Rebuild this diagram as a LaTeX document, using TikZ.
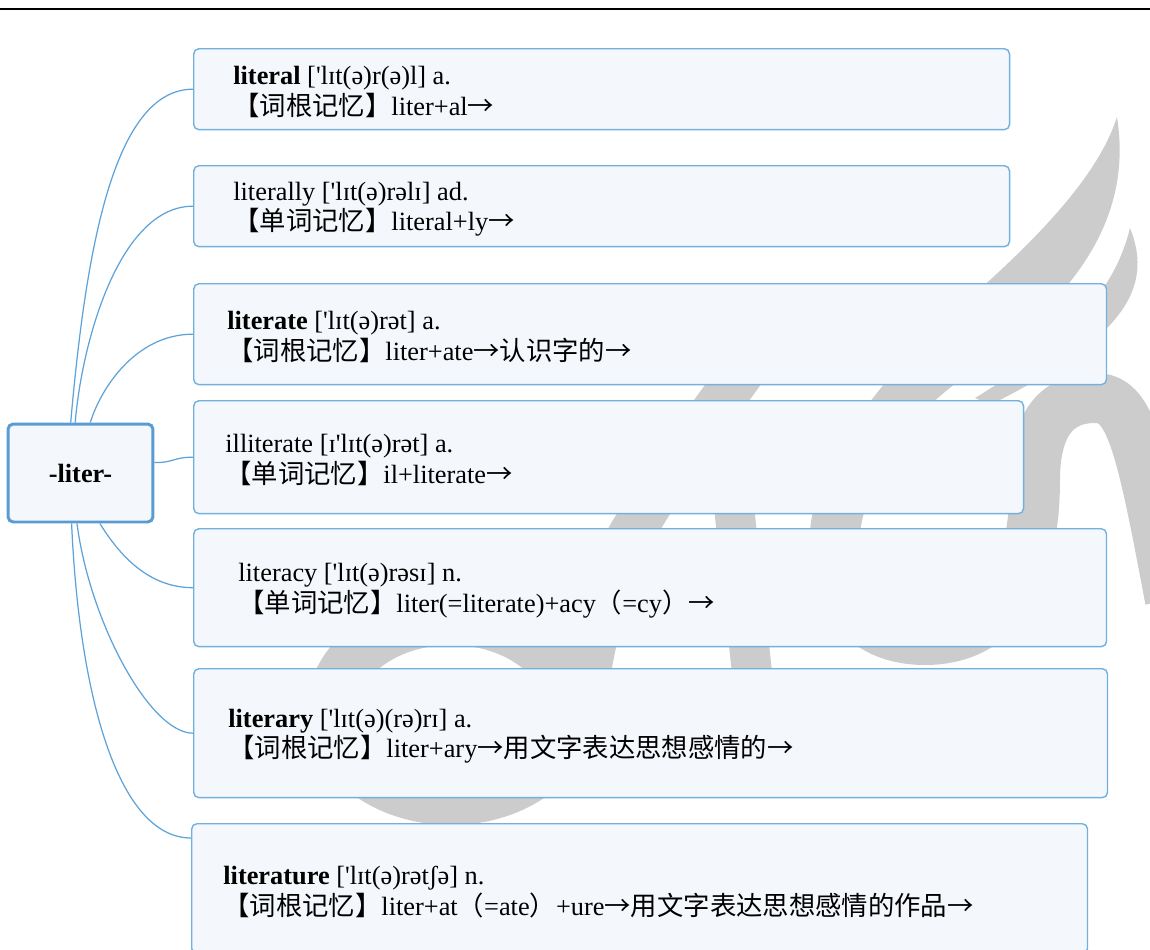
\documentclass[tikz,border=0pt]{standalone}
\usepackage{fontspec}
\setmainfont{Liberation Serif}
\newfontfamily\ipafont{Liberation Serif}
\newfontfamily\cjk{Noto Sans CJK SC}
\usetikzlibrary{positioning,calc}
\definecolor{boxline}{HTML}{72B0DE}
\definecolor{rootline}{HTML}{5A9BD3}
\definecolor{boxfill}{HTML}{F4F7FC}
\definecolor{linkline}{HTML}{5DA2D8}
\definecolor{wmgray}{HTML}{CCCCCC}
\newcommand{\sq}{{\ipafont\char"27}}
\newcommand{\ra}{{\cjk →}}

\begin{document}
\begin{tikzpicture}[x=0.02cm,y=-0.02cm,
	wordbox/.style={draw=boxline,fill=boxfill,rounded corners=3pt,line width=0.8pt,anchor=north west,inner sep=0pt},
	rootbox/.style={draw=rootline,fill=boxfill,rounded corners=3pt,line width=1.7pt,minimum width=2.9cm,minimum height=1.96cm,font=\fontsize{15}{18}\selectfont\bfseries},
	wordtext/.style={align=left,inner sep=0pt,yshift=-0.06cm,font=\fontsize{15}{17.6}\selectfont},
	link/.style={draw=linkline,line width=0.7pt}]
	\useasboundingbox (0,0) rectangle (1150,950);
	\draw[line width=1.7pt] (0,9) -- (1150,9);
	% watermark
	\fill[wmgray] (1117,117) .. controls (1135,230) and (1060,310) .. (960,380) .. controls (920,410) and (895,440) .. (880,480) -- (830,470) .. controls (860,400) and (920,340) .. (990,280) .. controls (1050,225) and (1100,170) .. (1117,117) -- cycle;
	\fill[wmgray] (1130,228) .. controls (1155,290) and (1120,340) .. (990,405) -- (975,398) .. controls (1070,340) and (1115,290) .. (1130,228) -- cycle;
	\draw[wmgray,line width=1cm] (855,470) .. controls (815,540) and (830,640) .. (925,640) .. controls (1010,640) and (1035,560) .. (1035,480) .. controls (1035,420) and (1060,398) .. (1095,398) .. controls (1130,398) and (1140,440) .. (1170,600);
	\draw[wmgray,line width=1cm] (451,710) ellipse (119 and 90);
	\draw[wmgray,line width=0.9cm] (575,760) .. controls (590,640) and (610,560) .. (640,520) .. controls (670,470) and (700,430) .. (780,320);
	\draw[wmgray,line width=0.8cm] (730,470) -- (755,700);

	\node[rootbox] (root) at (80.5,473) {-liter-};

	\node[wordbox,minimum width=16.32cm,minimum height=1.62cm] (b1) at (193,48) {};
	\node[wordbox,minimum width=16.32cm,minimum height=1.62cm] (b2) at (193,165) {};
	\node[wordbox,minimum width=18.26cm,minimum height=2.02cm] (b3) at (193,283) {};
	\node[wordbox,minimum width=16.6cm,minimum height=2.26cm] (b4) at (193,400) {};
	\node[wordbox,minimum width=18.26cm,minimum height=2.36cm] (b5) at (193,528) {};
	\node[wordbox,minimum width=18.28cm,minimum height=2.58cm] (b6) at (193,668) {};
	\node[wordbox,minimum width=17.92cm,minimum height=2.6cm] (b7) at (191,823) {};

	\node[wordtext,right=0.8cm of b1.west] (t1) {\textbf{literal} [\sq lɪt(ə)r(ə)l] a.\\{\cjk 【词根记忆】}liter+al\ra};
	\node[wordtext,right=0.8cm of b2.west] (t2) {literally [\sq lɪt(ə)rəlɪ] ad.\\{\cjk 【单词记忆】}literal+ly\ra};
	\node[wordtext,right=0.68cm of b3.west] (t3) {\textbf{literate} [\sq lɪt(ə)rət] a.\\{\cjk 【词根记忆】}liter+ate\ra{\cjk 认识字的}\ra};
	\node[wordtext,right=0.64cm of b4.west] (t4) {illiterate [ɪ\sq lɪt(ə)rət] a.\\{\cjk 【单词记忆】}il+literate\ra};
	\node[wordtext,right=0.9cm of b5.west] (t5) {literacy [\sq lɪt(ə)rəsɪ] n.\\{\cjk 【单词记忆】}liter(=literate)+acy{\cjk （}=cy{\cjk ）}\ra};
	\node[wordtext,right=0.7cm of b6.west] (t6) {\textbf{literary} [\sq lɪt(ə)(rə)rɪ] a.\\{\cjk 【词根记忆】}liter+ary\ra{\cjk 用文字表达思想感情的}\ra};
	\node[wordtext,right=0.64cm of b7.west] (t7) {\textbf{literature} [\sq lɪt(ə)rətʃə] n.\\{\cjk 【词根记忆】}liter+at{\cjk （}=ate{\cjk ）}+ure\ra{\cjk 用文字表达思想感情的作品}\ra};

	\draw[link] (root.101) .. controls +(15,-170) and +(-80,0) .. (b1.west);
	\draw[link] (root.96) .. controls +(7,-83) and +(-73,0) .. (b2.west);
	\draw[link] (root.79) .. controls +(10,-33) and +(-58,0) .. (b3.west);
	\draw[link] (root.8) .. controls +(20,0) and +(-20,0) .. (b4.west);
	\draw[link] (root.291) .. controls +(21,34) and +(-43,0) .. (b5.west);
	\draw[link] (root.266) .. controls +(13,99) and +(-43,0) .. (b6.west);
	\draw[link] (root.260) .. controls +(8,179) and +(-71,0) .. ([yshift=-0.3cm]b7.north west);
\end{tikzpicture}
\end{document}
